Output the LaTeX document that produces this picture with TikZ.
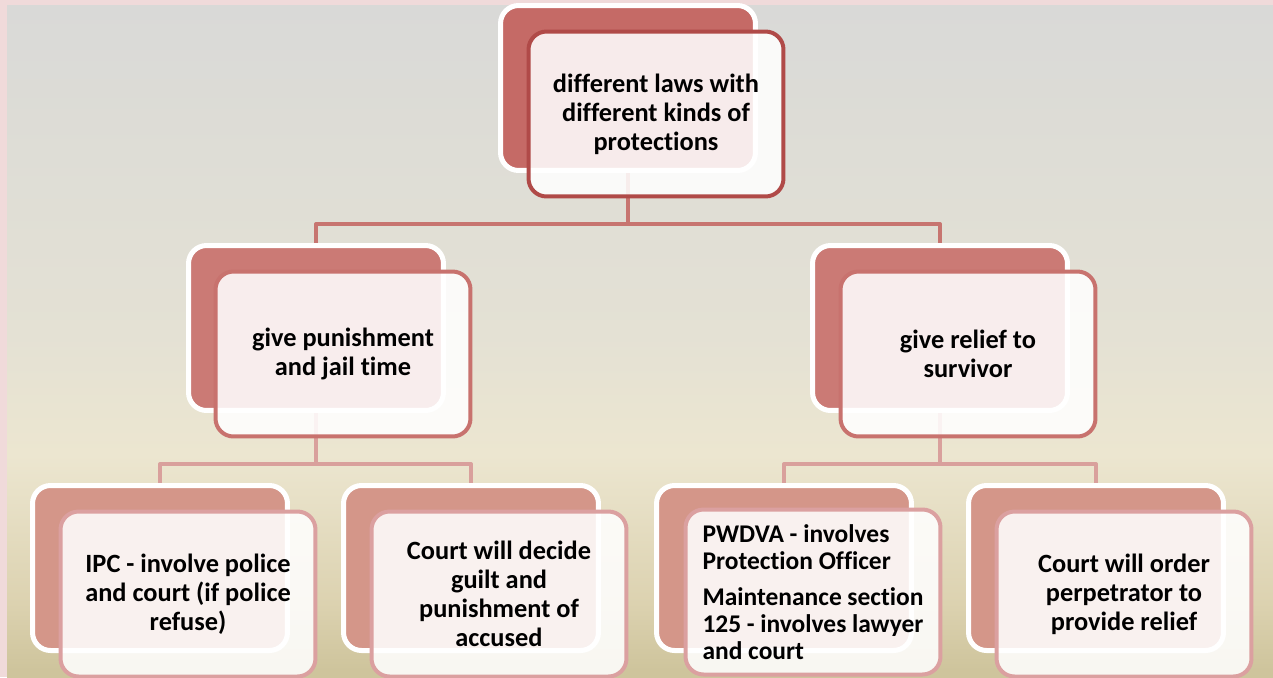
\documentclass[tikz,border=0pt]{standalone}
\usepackage{fontspec}
\setmainfont{Carlito}[Ligatures=NoCommon]
\usepackage{xcolor}
\usepackage{tikz}
\usetikzlibrary{positioning,calc}

\definecolor{frame}{RGB}{240,218,218}
\definecolor{bgA}{RGB}{206,196,156}
\definecolor{bgB}{RGB}{220,210,176}
\definecolor{bgC}{RGB}{236,230,208}
\definecolor{bgD}{RGB}{228,225,212}
\definecolor{bgE}{RGB}{222,221,214}
\definecolor{bgF}{RGB}{217,217,215}
\definecolor{redA}{RGB}{197,106,102}
\definecolor{redB}{RGB}{203,122,117}
\definecolor{redC}{RGB}{212,150,137}
\definecolor{edgeA}{RGB}{176,74,72}
\definecolor{edgeB}{RGB}{200,114,110}
\definecolor{edgeC}{RGB}{219,160,160}
\definecolor{linkcolA}{RGB}{199,117,112}
\definecolor{linkcolB}{RGB}{217,160,156}

\pgfdeclareverticalshading{backdrop}{100bp}{color(0bp)=(bgA); color(25.5bp)=(bgA); color(30.5bp)=(bgB); color(41.5bp)=(bgC); color(50.5bp)=(bgD); color(64bp)=(bgE); color(75bp)=(bgF); color(100bp)=(bgF)}

\pgfdeclarelayer{bg}
\pgfdeclarelayer{links}
\pgfsetlayers{bg,links,main}

\tikzset{
  backbox/.style={draw=white, line width=0.1cm, rounded corners=0.36cm,
    minimum width=5.1cm, minimum height=3.3cm, inner sep=0pt},
  frontbox/.style={line width=0.08cm, rounded corners=0.36cm,
    minimum width=5.1cm, minimum height=3.3cm, inner sep=0pt,
    fill=white, fill opacity=0.87, text opacity=1,
    text width=4.7cm, align=flush center,
    font=\fontsize{15}{16.6}\selectfont\bfseries},
  linkA/.style={draw=linkcolA, line width=0.08cm, line join=round},
  linkB/.style={draw=linkcolB, line width=0.08cm, line join=round}
}

\begin{document}
\begin{tikzpicture}[x=0.02cm,y=-0.02cm]
\useasboundingbox (0,0) rectangle (1273,677);
\begin{pgfonlayer}{bg}
\fill[frame] (0,0) rectangle (1273,677);
\shade[shading=backdrop] (7,5) rectangle (1273,677);
\end{pgfonlayer}

% top level
\node[backbox,fill=redA] (top-b) at (628,88) {};
\node[frontbox,draw=edgeA] (top-f) at ($(top-b)+(28,26)$) {different laws with\\different kinds of\\protections};

% second level
\node[backbox,fill=redB] (punish-b) at (316,328) {};
\node[frontbox,draw=edgeB] (punish-f) at ($(punish-b)+(27,26)$) {give punishment\\and jail time};
\node[backbox,fill=redB] (relief-b) at (940,328) {};
\node[frontbox,draw=edgeB] (relief-f) at ($(relief-b)+(28,26)$) {give relief to\\survivor};

% third level
\node[backbox,fill=redC] (ipc-b) at (160,568) {};
\node[frontbox,draw=edgeC] (ipc-f) at ($(ipc-b)+(28,26)$) {IPC - involve police\\and court (if police\\refuse)};
\node[backbox,fill=redC] (guilt-b) at (471,568) {};
\node[frontbox,draw=edgeC] (guilt-f) at ($(guilt-b)+(28,26)$) {Court will decide\\guilt and\\punishment of\\accused};
\node[backbox,fill=redC] (pwdva-b) at (784,568) {};
\node[frontbox,draw=edgeC,text width=4.42cm,align=justify,font=\fontsize{14.5}{15.5}\selectfont\bfseries] (pwdva-f) at ($(pwdva-b)+(29,24)$) {PWDVA - involves\\Protection Officer\par\vspace{5pt}Maintenance section\linebreak 125 - involves lawyer\linebreak and court};
\node[backbox,fill=redC] (order-b) at (1096,568) {};
\node[frontbox,draw=edgeC] (order-f) at ($(order-b)+(28,26)$) {Court will order\\perpetrator to\\provide relief};

% connectors
\begin{pgfonlayer}{links}
\draw[linkA] (top-b.south) -- ++(0,51) coordinate (j1);
\draw[linkA] (punish-b.north) |- (j1) -| (relief-b.north);
\draw[linkB] (punish-b.south) -- ++(0,51) coordinate (j2);
\draw[linkB] (ipc-b.north) |- (j2) -| (guilt-b.north);
\draw[linkB] (relief-b.south) -- ++(0,51) coordinate (j3);
\draw[linkB] (pwdva-b.north) |- (j3) -| (order-b.north);
\end{pgfonlayer}
\end{tikzpicture}
\end{document}
